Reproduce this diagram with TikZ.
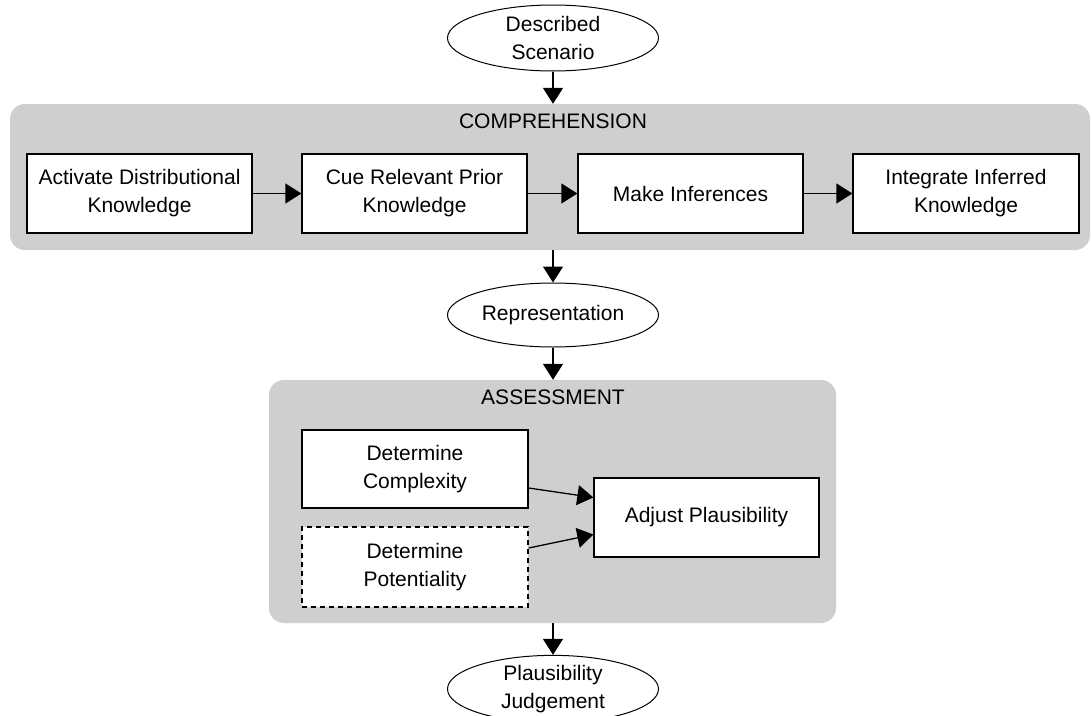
\documentclass[tikz,border=0pt]{standalone}
\usepackage{fontspec}
\setmainfont{Liberation Sans}
\usetikzlibrary{shapes.geometric,arrows.meta}
\definecolor{panel}{RGB}{208,207,208}
\begin{document}
\begin{tikzpicture}[x=1pt,y=-1pt,
  font=\fontsize{21}{28}\selectfont,
  panelbox/.style={fill=panel, draw=none, rounded corners=15pt, inner sep=0pt},
  stepbox/.style={draw, line width=1.3pt, fill=white, rectangle, minimum width=225pt, minimum height=79pt, inner sep=0pt, align=center},
  oval/.style={draw, line width=1pt, fill=white, ellipse, minimum width=211pt, minimum height=66pt, inner sep=0pt, align=center},
  arr/.style={line width=1.3pt, -{Triangle[length=16pt,width=20pt]}},
  title/.style={inner sep=0pt}]
\useasboundingbox (0,0) rectangle (1092,715);
\fill[white] (0,0) rectangle (1092,715);
% panels
\node[panelbox, minimum width=1080pt, minimum height=146pt] (comp) at (550,177) {};
\node[panelbox, minimum width=567pt, minimum height=243pt] (ass) at (552.5,501.5) {};
\node[title] (complabel) at (553,121) {COMPREHENSION};
\node[title] (asslabel) at (553,397) {ASSESSMENT};
% ovals
\node[oval] (ds) at (553,38) {Described\\Scenario};
\node[oval, minimum height=64pt] (rep) at (553,315) {Representation};
\node[oval] (pj) at (553,689) {Plausibility\\Judgement};
% comprehension steps
\node[stepbox] (a1) at (139.5,193.5) {Activate Distributional\\Knowledge};
\node[stepbox] (a2) at (414.5,193.5) {Cue Relevant Prior\\Knowledge};
\node[stepbox] (a3) at (690.5,193.5) {Make Inferences};
\node[stepbox, minimum width=226pt] (a4) at (966,193.5) {Integrate Inferred\\Knowledge};
% assessment steps
\node[stepbox, minimum width=226pt, minimum height=78pt] (c1) at (415,469) {Determine\\Complexity};
\node[stepbox, minimum width=226pt, minimum height=80pt, dash pattern=on 5pt off 4pt] (c2) at (415,567) {Determine\\Potentiality};
\node[stepbox] (adj) at (706.5,517.5) {Adjust Plausibility};
% connectors
\draw[arr] (ds.south) -- (ds.south |- comp.north);
\draw[arr] (a1.east) -- (a2.west);
\draw[arr] (a2.east) -- (a3.west);
\draw[arr] (a3.east) -- (a4.west);
\draw[arr] (rep.north |- comp.south) -- (rep.north);
\draw[arr] (rep.south) -- (rep.south |- ass.north);
\draw[arr] (pj.north |- ass.south) -- (pj.north);
\draw[arr] ([yshift=-19pt]c1.east) -- ([yshift=20pt]adj.west);
\draw[arr] ([yshift=19pt]c2.east) -- ([yshift=-17pt]adj.west);
\end{tikzpicture}
\end{document}
